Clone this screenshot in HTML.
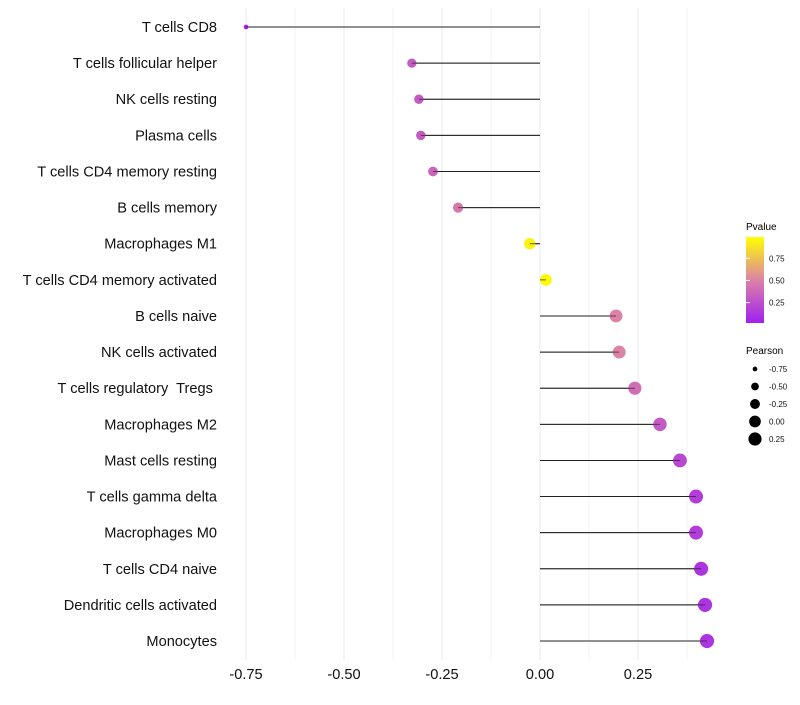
<!DOCTYPE html>
<html><head><meta charset="utf-8"><style>
body{margin:0;background:#fff;}
svg text{font-family:"Liberation Sans",sans-serif;white-space:pre;}
</style></head><body>
<svg id="chart" width="800" height="700">
<defs><linearGradient id="pg" x1="0" y1="1" x2="0" y2="0">
<stop offset="0" stop-color="#a020f0"/><stop offset="0.5" stop-color="#dc82a6"/><stop offset="1" stop-color="#ffff00"/>
</linearGradient></defs>
<g id="grid"></g>
<g id="marks"></g>
<g id="axes"></g>
<g id="legend">
<text x="746" y="230" font-size="10">Pvalue</text>
<rect x="746" y="237" width="18" height="86" fill="url(#pg)"/>
<g id="cbticks"></g>
<text x="746" y="354" font-size="10">Pearson</text>
<g id="sizeleg"></g>
</g>
</svg>
<script>
const categories=["T cells CD8","T cells follicular helper","NK cells resting","Plasma cells","T cells CD4 memory resting","B cells memory","Macrophages M1","T cells CD4 memory activated","B cells naive","NK cells activated","T cells regulatory  Tregs ","Macrophages M2","Mast cells resting","T cells gamma delta","Macrophages M0","T cells CD4 naive","Dendritic cells activated","Monocytes"];
const pearson=[-0.75,-0.327,-0.309,-0.304,-0.273,-0.209,-0.026,0.015,0.194,0.202,0.242,0.306,0.357,0.398,0.398,0.411,0.421,0.426];
const pvalue=[0.03,0.3,0.3,0.3,0.35,0.45,0.95,0.98,0.5,0.5,0.4,0.3,0.2,0.15,0.15,0.1,0.1,0.1];
const xTicks=[-0.75,-0.5,-0.25,0,0.25];
const xTickLabels=["-0.75","-0.50","-0.25","0.00","0.25"];
const cbTicks=[0.25,0.5,0.75];
const sizeLegend=[-0.75,-0.5,-0.25,0,0.25];
const sizeLegendLabels=["-0.75","-0.50","-0.25","0.00","0.25"];
const NS="http://www.w3.org/2000/svg";
const x=v=>540+v*392;
const y=i=>27+i*36.12;
const r=v=>Math.sqrt(Math.max(2.5,34+38*v));
function col(p){const s=[[0,[160,32,240]],[0.5,[220,130,166]],[1,[255,255,0]]];p=Math.min(1,Math.max(0,p));
let a=p<=0.5?s[0]:s[1],b=p<=0.5?s[1]:s[2];let t=(p-a[0])/(b[0]-a[0]);
return "rgb("+a[1].map((c,k)=>Math.round(c+(b[1][k]-c)*t)).join(",")+")";}
function mk(tag,at,parent,txt){const e=document.createElementNS(NS,tag);for(const k in at)e.setAttribute(k,at[k]);if(txt!==undefined)e.textContent=txt;document.getElementById(parent).appendChild(e);return e;}
for(let v=-0.75;v<=0.45;v+=0.125){const g=mk("line",{x1:x(v),x2:x(v),y1:8,y2:660,stroke:"#ebebeb","stroke-width":Math.abs((v*4)%1)<0.01?1:0.6},"grid");

}
categories.forEach((c,i)=>{const e=mk("line",{x1:x(0),x2:x(pearson[i]),y1:y(i),y2:y(i),stroke:"#222","stroke-width":1},"marks");

});
categories.forEach((c,i)=>{const e=mk("circle",{cx:x(pearson[i]),cy:y(i),r:r(pearson[i]),fill:col(pvalue[i])},"marks");

});
categories.forEach((c,i)=>{const e=mk("line",{x1:x(0),x2:x(pearson[i]),y1:y(i),y2:y(i),stroke:"#222","stroke-width":1,"stroke-opacity":0.7},"marks");


const t=mk("text",{x:217,y:y(i)+5,"font-size":14.6,"text-anchor":"end",fill:"#111"},"axes",c);

});
xTicks.forEach((v,i)=>{const t=mk("text",{x:x(v),y:679,"font-size":14.6,"text-anchor":"middle",fill:"#111"},"axes",xTickLabels[i]);

});
const cb=p=>237+86*(1-(p-0.02)/0.97);
cbTicks.forEach(p=>{const t=mk("text",{x:769,y:cb(p)+3,"font-size":8,fill:"#111"},"cbticks",p.toFixed(2));


const l=mk("line",{x1:746,x2:750,y1:cb(p),y2:cb(p),stroke:"#fff"},"cbticks");

});
sizeLegend.forEach((v,i)=>{const yy=369+i*17.5;const c=mk("circle",{cx:755,cy:yy,r:r(v),fill:"#000"},"sizeleg");


const t=mk("text",{x:769,y:yy+3,"font-size":8,fill:"#111"},"sizeleg",sizeLegendLabels[i]);

});
</script>
</body></html>
